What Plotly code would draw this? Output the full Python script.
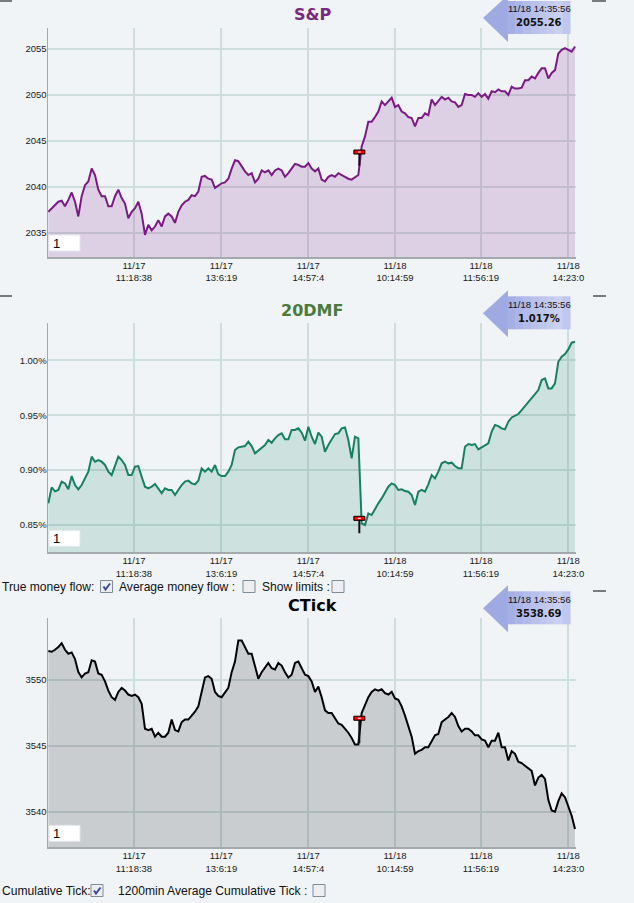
import plotly.graph_objects as go

W, H = 634, 903


def px(x):
    return x / W


def py(y):
    return 1 - y / H


# ---------------- data ----------------
tick_idx = [25.7, 51.9, 78.0, 104.0, 129.8, 156.0]
tick_text = ["11/17<br>11:18:38", "11/17<br>13:6:19", "11/17<br>14:57:4",
             "11/18<br>10:14:59", "11/18<br>11:56:19", "11/18<br>14:23:0"]

sp_values = [
    2037.3, 2037.7, 2038.0, 2038.4, 2038.5, 2037.9, 2038.6, 2039.4, 2038.4, 2036.8,
    2039.0, 2040.2, 2040.6, 2042.0, 2041.3, 2039.7, 2039.0, 2039.0, 2037.9, 2037.9,
    2039.0, 2039.7, 2038.8, 2038.2, 2036.6, 2037.3, 2037.7, 2038.4, 2037.1, 2034.8,
    2035.9, 2035.3, 2035.7, 2036.4, 2035.7, 2036.8, 2037.1, 2036.8, 2036.1, 2037.3,
    2038.0, 2038.4, 2038.6, 2039.1, 2039.0, 2039.5, 2041.1, 2041.2, 2040.9, 2040.8,
    2039.9, 2040.2, 2040.4, 2040.5, 2040.9, 2042.0, 2042.9, 2042.8, 2042.2, 2041.7,
    2041.3, 2041.5, 2040.5, 2040.9, 2041.8, 2041.6, 2041.8, 2041.3, 2041.8, 2042.0,
    2041.8, 2041.1, 2041.5, 2042.0, 2042.5, 2042.4, 2042.2, 2042.2, 2042.6, 2042.0,
    2041.7,
    2042.0, 2040.8, 2040.6, 2041.1, 2041.3, 2041.1, 2041.5, 2041.3, 2041.1, 2040.9,
    2040.8, 2041.1, 2041.3, 2044.4, 2045.5, 2047.1, 2047.1, 2047.6, 2048.2, 2049.3,
    2048.9, 2049.3, 2049.7, 2048.7, 2048.9, 2048.2, 2048.0, 2047.6, 2047.5, 2046.6,
    2047.5, 2047.5, 2048.0, 2047.8, 2049.5, 2048.9, 2049.3, 2049.8, 2049.5, 2049.7,
    2049.3, 2049.2, 2048.7, 2048.9, 2050.1, 2050.0, 2050.0, 2049.8, 2050.2, 2049.8,
    2050.1, 2049.6, 2050.4, 2050.3, 2050.6, 2050.4, 2050.4, 2050.0, 2050.9, 2050.7,
    2050.7, 2050.8, 2051.6, 2051.6, 2052.0, 2051.8, 2052.4, 2052.9, 2052.9, 2051.8,
    2052.4, 2052.7, 2054.5, 2054.9, 2055.1, 2054.9, 2054.7, 2055.26,
]

dmf_values = [
    0.8696, 0.8842, 0.8805, 0.8818, 0.8894, 0.8878, 0.8824, 0.8945, 0.8863, 0.8824,
    0.8863, 0.8924, 0.8985, 0.9122, 0.9076, 0.9091, 0.9076, 0.9046, 0.8985, 0.8954,
    0.9030, 0.9122, 0.9091, 0.9046, 0.8954, 0.8954, 0.9030, 0.9036, 0.8939, 0.8848,
    0.8833, 0.8848, 0.8872, 0.8833, 0.8787, 0.8833, 0.8818, 0.8818, 0.8772, 0.8818,
    0.8863, 0.8894, 0.8903, 0.8878, 0.8869, 0.8903, 0.9015, 0.8985, 0.9015, 0.8985,
    0.9046, 0.8960, 0.8945, 0.8945, 0.8985, 0.9046, 0.9182, 0.9207, 0.9213, 0.9219,
    0.9258, 0.9219, 0.9152, 0.9176, 0.9207, 0.9228, 0.9274, 0.9249, 0.9289, 0.9319,
    0.9335, 0.9280, 0.9280, 0.9365, 0.9365, 0.9380, 0.9341, 0.9268, 0.9395, 0.9304,
    0.9237,
    0.9341, 0.9304, 0.9167, 0.9228, 0.9274, 0.9328, 0.9335, 0.9380, 0.9389, 0.9274,
    0.9106, 0.9304, 0.9289, 0.8513, 0.8498, 0.8604, 0.8589, 0.8650, 0.8696, 0.8741,
    0.8802, 0.8848, 0.8878, 0.8863, 0.8818, 0.8824, 0.8808, 0.8802, 0.8772, 0.8681,
    0.8802, 0.8818, 0.8802, 0.8869, 0.8954, 0.8924, 0.8985, 0.9061, 0.9076, 0.9061,
    0.9067, 0.9036, 0.9015, 0.9015, 0.9213, 0.9237, 0.9228, 0.9237, 0.9188, 0.9207,
    0.9219, 0.9243, 0.9350, 0.9411, 0.9401, 0.9380, 0.9371, 0.9441, 0.9480, 0.9493,
    0.9511, 0.9547, 0.9584, 0.9623, 0.9662, 0.9693, 0.9730, 0.9821, 0.9836, 0.9745,
    0.9745, 0.9791, 0.9988, 1.0034, 1.0058, 1.0101, 1.0162, 1.0170,
]

ctick_values = [
    3552.2, 3552.15, 3552.3, 3552.5, 3552.8, 3552.3, 3552.0, 3552.1, 3551.6, 3550.6,
    3550.2, 3550.5, 3550.6, 3551.5, 3551.4, 3550.5, 3550.4, 3549.9, 3549.2, 3548.7,
    3548.5, 3549.1, 3549.4, 3549.2, 3548.9, 3548.8, 3548.9, 3548.7, 3548.2, 3546.3,
    3546.2, 3546.3, 3545.7, 3546.0, 3545.7, 3545.7, 3546.0, 3547.0, 3546.2, 3546.1,
    3546.8, 3547.0, 3547.0, 3547.3, 3547.6, 3548.0, 3549.2, 3550.2, 3550.3, 3550.1,
    3549.1, 3548.8, 3548.7, 3549.1, 3549.4, 3550.6, 3551.4, 3553.0, 3553.0, 3552.5,
    3552.0, 3552.0, 3551.0, 3550.1, 3550.6, 3551.0, 3551.3, 3550.9, 3550.8, 3551.3,
    3551.1, 3550.6, 3550.2, 3550.4, 3551.3, 3551.4, 3550.9, 3550.4, 3550.3, 3549.9,
    3549.1,
    3549.5, 3548.7, 3547.7, 3547.5, 3547.5, 3547.1, 3546.7, 3546.6, 3546.3, 3546.0,
    3545.6, 3545.1, 3545.1, 3547.5, 3548.1, 3548.7, 3549.1, 3549.3, 3549.2, 3549.3,
    3549.0, 3548.9, 3549.1, 3548.6, 3548.5, 3548.0, 3547.3, 3546.5, 3545.7, 3544.4,
    3544.6, 3544.7, 3544.9, 3544.9, 3545.4, 3545.8, 3545.9, 3546.8, 3547.0, 3547.2,
    3547.5, 3547.2, 3546.5, 3546.1, 3546.3, 3546.3, 3546.1, 3545.8, 3545.8, 3545.5,
    3545.4, 3544.9, 3545.4, 3545.4, 3546.0, 3544.9, 3544.9, 3543.9, 3544.6, 3544.4,
    3543.8, 3543.7, 3543.5, 3543.3, 3543.1, 3542.0, 3542.6, 3542.8, 3542.5, 3540.9,
    3540.1, 3540.0, 3540.8, 3541.4, 3541.1, 3540.4, 3539.7, 3538.69,
]

sample_idx = list(range(len(sp_values)))

# day-change markers (index, marker value, gap end value)
marker_idx = 93.3
sp_marker = [2043.8, 2042.3]
dmf_marker = [0.8559, 0.8422]
ctick_marker = [3547.1, 3545.2]

last_time = "11/18 14:35:56"
sp_last = "2055.26"
dmf_last = "1.017%"
ctick_last = "3538.69"

BG = "#F0F4F7"
GRID = "#CFDDDD"
AXIS = "#A3AAAD"
TICKFONT = dict(family="Liberation Sans, Arial, sans-serif", size=9.5, color="#1a1a1a")

panels = [
    dict(title="S&P", tcolor="#7A2A7E", vals=sp_values, line="#7B1A85",
         fill="rgba(123,26,133,0.16)", top=28.0, bottom=257.0,
         yrange=[2032.39, 2057.28], yticks=[2035, 2040, 2045, 2050, 2055],
         ytext=None, marker=sp_marker, last=sp_last),
    dict(title="20DMF", tcolor="#4A7A3C", vals=dmf_values, line="#17805F",
         fill="rgba(22,128,95,0.16)", top=323.3, bottom=552.3,
         yrange=[0.8249, 1.0339], yticks=[0.85, 0.90, 0.95, 1.00],
         ytext=["0.85%", "0.90%", "0.95%", "1.00%"], marker=dmf_marker, last=dmf_last),
    dict(title="CTick", tcolor="#000000", vals=ctick_values, line="#000000",
         fill="rgba(0,0,0,0.155)", top=618.3, bottom=847.3,
         yrange=[3537.3, 3554.69], yticks=[3540, 3545, 3550],
         ytext=None, marker=ctick_marker, last=ctick_last),
]

fig = go.Figure()
shapes = []
annotations = []
layout = {}

for k, p in enumerate(panels, start=1):
    xa = "x" if k == 1 else f"x{k}"
    ya = "y" if k == 1 else f"y{k}"
    fig.add_trace(go.Scatter(
        x=sample_idx, y=p["vals"], mode="lines", xaxis=xa, yaxis=ya,
        line=dict(color=p["line"], width=2), fill="tozeroy", fillcolor=p["fill"],
        hoverinfo="skip", showlegend=False))
    # black gap segment at day change
    fig.add_trace(go.Scatter(
        x=[marker_idx, marker_idx], y=p["marker"], mode="lines", xaxis=xa, yaxis=ya,
        line=dict(color="#111111", width=2), hoverinfo="skip", showlegend=False))

    xkey = "xaxis" if k == 1 else f"xaxis{k}"
    ykey = "yaxis" if k == 1 else f"yaxis{k}"
    layout[xkey] = dict(
        domain=[px(48), px(576)], anchor=ya, range=[-0.1, 158.3], automargin=False,
        tickmode="array", tickvals=tick_idx, ticktext=tick_text,
        showgrid=True, gridcolor=GRID, gridwidth=2,
        showline=True, linecolor=AXIS, linewidth=1.5, zeroline=False,
        ticks="", tickfont=TICKFONT, ticklabelstandoff=-1)
    yk = dict(
        domain=[py(p["bottom"]), py(p["top"])], anchor=xa, range=p["yrange"],
        automargin=False,
        tickmode="array", tickvals=p["yticks"],
        showgrid=True, gridcolor=GRID, gridwidth=2,
        showline=True, linecolor=AXIS, linewidth=1.5, zeroline=False,
        ticks="", tickfont=TICKFONT, ticklabelstandoff=-2)
    if p["ytext"]:
        yk["ticktext"] = p["ytext"]
    layout[ykey] = yk

    # day-change red marker
    shapes.append(dict(type="rect", xref=xa, yref=ya, xsizemode="pixel", ysizemode="pixel",
                       xanchor=marker_idx, yanchor=p["marker"][0], x0=-5.5, x1=5.5, y0=-2, y1=2,
                       fillcolor="#FF0000", line=dict(color="#000000", width=1), layer="above"))
    shapes.append(dict(type="line", xref=xa, yref=ya, xsizemode="pixel", ysizemode="pixel",
                       xanchor=marker_idx, yanchor=p["marker"][0], x0=-1.5, x1=1.5, y0=0, y1=0,
                       line=dict(color="#FFFFFF", width=1), layer="above"))

    T = p["top"]
    B = p["bottom"]
    # title
    annotations.append(dict(x=px(312), y=py(T - 13), xref="paper", yref="paper",
                            text=f"<b>{p['title']}</b>", showarrow=False,
                            xanchor="center", yanchor="middle",
                            font=dict(family="DejaVu Sans, Verdana, sans-serif", size=16,
                                      color=p["tcolor"])))
    # callout arrow
    head = (f"M {px(483)},{py(T - 10)} L {px(508)},{py(T - 33)} "
            f"L {px(508)},{py(T + 14)} Z")
    shapes.append(dict(type="path", xref="paper", yref="paper", path=head,
                       fillcolor="#A0AAE2", line=dict(width=0), layer="above"))
    body_cols = ["#A6AFE4", "#ACB5E7", "#B3BBE9", "#B9C1EB", "#BFC6ED",
                 "#C5CBEF", "#CAD0F1", "#C0C7EE"]
    bx0, bx1 = 507.5, 570
    step = (bx1 - bx0) / len(body_cols)
    for j, c in enumerate(body_cols):
        shapes.append(dict(type="rect", xref="paper", yref="paper",
                           x0=px(bx0 + j * step), x1=px(bx0 + (j + 1) * step + 0.5),
                           y0=py(T + 6), y1=py(T - 27), fillcolor=c,
                           line=dict(width=0), layer="above"))
    annotations.append(dict(x=px(539), y=py(T - 19), xref="paper", yref="paper",
                            text=last_time, showarrow=False, xanchor="center", yanchor="middle",
                            font=dict(family="Liberation Sans, Arial, sans-serif", size=9.5,
                                      color="#111111")))
    annotations.append(dict(x=px(539), y=py(T - 5), xref="paper", yref="paper",
                            text=f"<b>{p['last']}</b>", showarrow=False, xanchor="center",
                            yanchor="middle",
                            font=dict(family="DejaVu Sans, Verdana, sans-serif", size=10,
                                      color="#111111")))
    # "1" input box
    shapes.append(dict(type="rect", xref="paper", yref="paper",
                       x0=px(49), x1=px(80), y0=py(B - 6), y1=py(B - 22),
                       fillcolor="#FFFFFF", line=dict(color="#E2E6EA", width=1), layer="above"))
    annotations.append(dict(x=px(51), y=py(B - 14), xref="paper", yref="paper", text="1",
                            showarrow=False, xanchor="left", yanchor="middle",
                            font=dict(family="Liberation Sans, Arial, sans-serif", size=13,
                                      color="#000000")))

# corner dashes
for (x0, x1, yy) in [(0, 12, 1), (592, 606, 1), (0, 12, 296), (593, 606, 296), (593, 606, 591)]:
    shapes.append(dict(type="line", xref="paper", yref="paper", x0=px(x0), x1=px(x1),
                       y0=py(yy), y1=py(yy), line=dict(color="#000000", width=1)))

# checkbox rows
ROWFONT = dict(family="Liberation Sans, Arial, sans-serif", size=12.1, color="#111111")
row_texts = [
    (0, 586.5, "True money flow:"),
    (117, 586.5, "Average money flow :"),
    (260, 586.5, "Show limits :"),
    (0, 890.5, "Cumulative Tick:"),
    (116, 890.5, "1200min Average Cumulative Tick :"),
]
for x, y, t in row_texts:
    annotations.append(dict(x=px(x), y=py(y), xref="paper", yref="paper", text=t,
                            showarrow=False, xanchor="left", yanchor="middle", font=ROWFONT))

checkboxes = [(100.5, 580.5, True), (243, 580.5, False), (332, 580.5, False),
              (91, 884.5, True), (313, 884.5, False)]
for x, y, checked in checkboxes:
    shapes.append(dict(type="rect", xref="paper", yref="paper", x0=px(x), x1=px(x + 12),
                       y0=py(y + 12), y1=py(y), fillcolor="#ECEEF1",
                       line=dict(color="#7F8C99", width=1)))
    if checked:
        path = (f"M {px(x + 3)},{py(y + 6)} L {px(x + 5)},{py(y + 9)} "
                f"L {px(x + 9.5)},{py(y + 3)}")
        shapes.append(dict(type="path", xref="paper", yref="paper", path=path,
                           line=dict(color="#3B4A9C", width=2)))

fig.update_layout(
    width=W, height=H, margin=dict(l=0, r=0, t=0, b=0, autoexpand=False),
    paper_bgcolor=BG, plot_bgcolor=BG, showlegend=False,
    shapes=shapes, annotations=annotations, **layout)

fig.write_html("out.html",
               config={"displayModeBar": False, "staticPlot": True},
               post_script="document.body.style.margin='0px';"
                           "document.body.style.overflow='hidden';")
